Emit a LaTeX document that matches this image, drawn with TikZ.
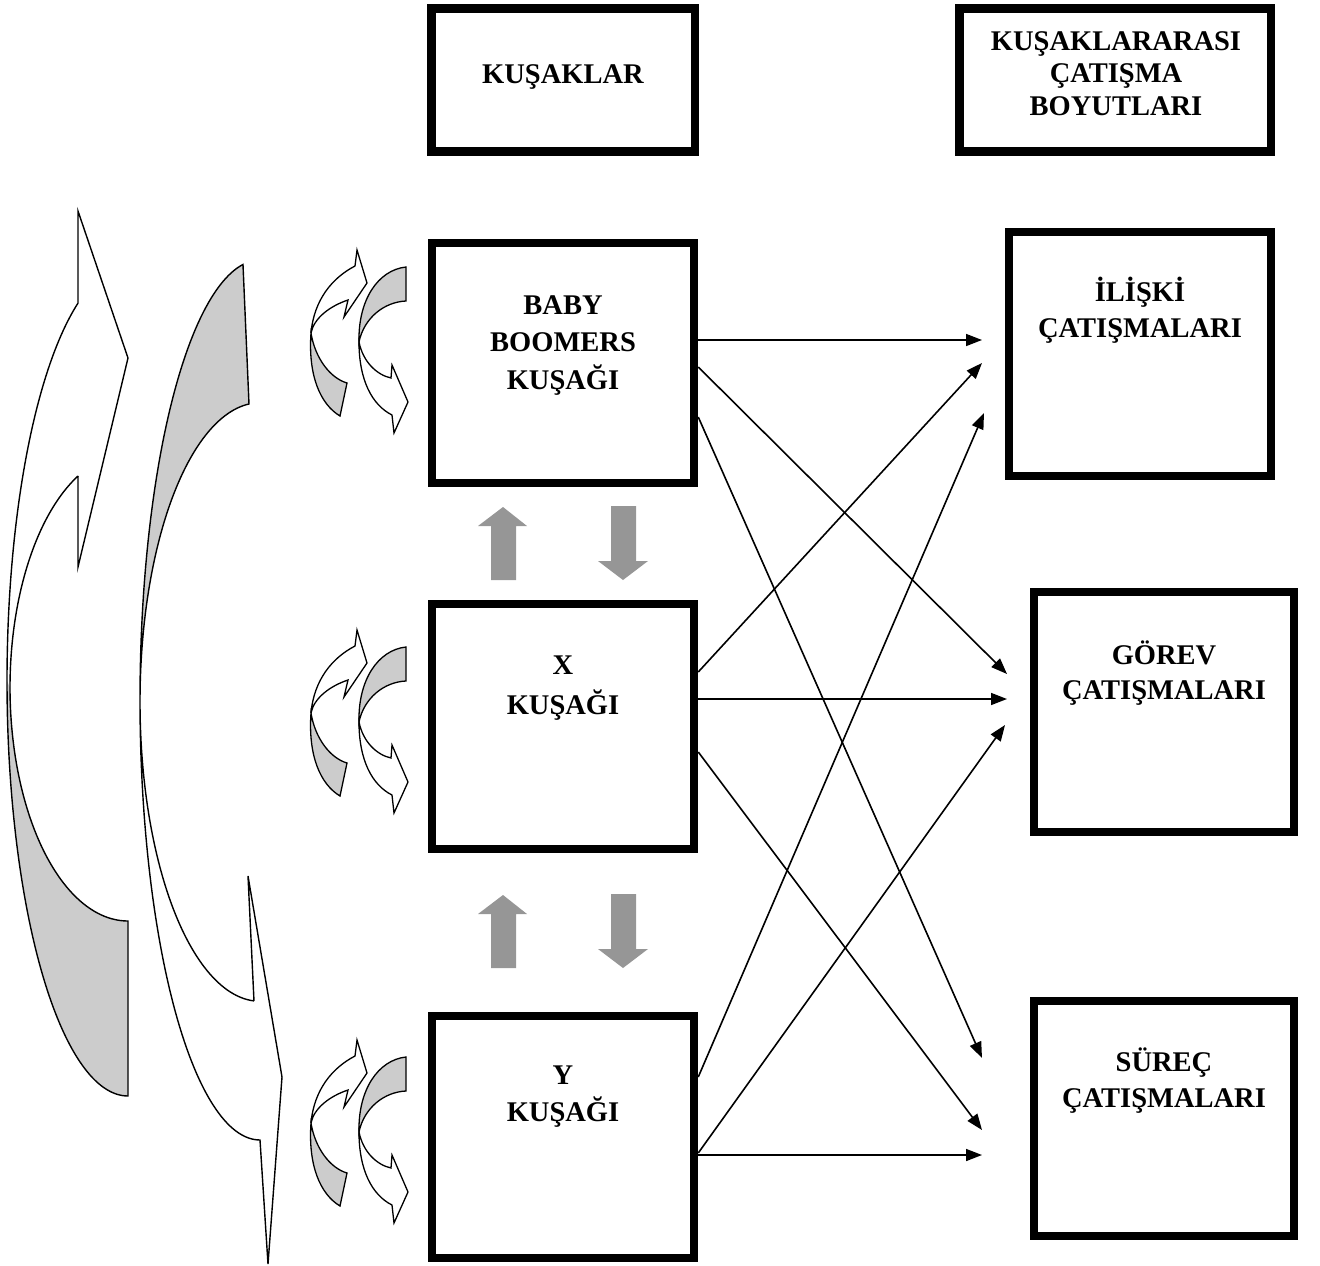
\documentclass[tikz,border=0pt]{standalone}
\usepackage{fontspec}
\setmainfont{Liberation Serif}
\usetikzlibrary{arrows.meta}
\definecolor{ribbongray}{HTML}{CCCCCC}
\definecolor{blockgray}{HTML}{969696}
\begin{document}
\begin{tikzpicture}[x=1pt,y=-1pt,
  box/.style={draw=black, line width=8.5pt, fill=white, inner sep=0pt},
  lbl/.style={font=\bfseries\fontsize{28.5}{34}\selectfont, anchor=base, inner sep=0pt},
  link/.style={line width=1.6pt, -{Triangle[length=16pt,width=12pt]}},
  ribbonline/.style={line width=1.4pt, line join=miter},
  swirlline/.style={line width=1.3pt, line join=miter},
  % small twisted pair of curved arrows beside each generation box
  swirlpair/.pic={
    % left ribbon: white head up-right, grey underside below
    \filldraw[swirlline, fill=white] (311,333) .. controls (314,300) and (332,278) .. (355,266)
      -- (357,250) -- (367,283) -- (344,317) -- (348,300)
      .. controls (330,306) and (314,318) .. (311,333) -- cycle;
    \filldraw[swirlline, fill=ribbongray] (311,333) .. controls (308,375) and (320,404) .. (340,416)
      -- (347,383) .. controls (330,378) and (315,358) .. (311,333) -- cycle;
    % right ribbon: grey tail on top, white head down-right
    \filldraw[swirlline, fill=ribbongray] (359,342) .. controls (358,300) and (378,270) .. (406,267)
      -- (406,301) .. controls (384,302) and (364,318) .. (359,342) -- cycle;
    \filldraw[swirlline, fill=white] (359,342) .. controls (359,380) and (372,405) .. (392,415)
      -- (394,433) -- (408,402) -- (392,365) -- (391,378)
      .. controls (377,375) and (363,362) .. (359,342) -- cycle;
  },
  uparrow/.pic={
    \fill[blockgray] (491,580) -- (491,526) -- (478,526) -- (503,507) -- (527,526)
      -- (516,526) -- (516,580) -- cycle;
  },
  downarrow/.pic={
    \fill[blockgray] (611,506) -- (636,506) -- (636,561) -- (648,561) -- (623,580)
      -- (598,561) -- (611,561) -- cycle;
  },
]
\useasboundingbox (0,0) rectangle (1320,1266);

% ---------- large twisted ribbon arrows on the far left ----------
% ribbon 1: white head pointing up-right, grey underside at the bottom
\fill[white] plot[domain=180:245.6,samples=80,variable=\t] ({128+121*cos(\t)},{681+415*sin(\t)})
  -- (78,211) -- (128,358) -- (78,567) -- (78,476)
  -- plot[domain=244.93:180,samples=80,variable=\t] ({128+118*cos(\t)},{687.5+233.5*sin(\t)}) -- cycle;
\fill[ribbongray] plot[domain=180:90,samples=80,variable=\t] ({128+121*cos(\t)},{681+415*sin(\t)})
  -- plot[domain=90:180,samples=80,variable=\t] ({128+118*cos(\t)},{687.5+233.5*sin(\t)}) -- cycle;
\draw[ribbonline] plot[domain=90:245.6,samples=120,variable=\t] ({128+121*cos(\t)},{681+415*sin(\t)})
  -- (78,211) -- (128,358) -- (78,567) -- (78,476)
  -- plot[domain=244.93:90,samples=120,variable=\t] ({128+118*cos(\t)},{687.5+233.5*sin(\t)}) -- cycle;

% ribbon 2: grey tail at the top, white head pointing down-right
\fill[ribbongray] plot[domain=261.85:180,samples=80,variable=\t] ({260+120*cos(\t)},{700+440*sin(\t)})
  -- plot[domain=180:264.74,samples=80,variable=\t] ({260+120*cos(\t)},{702+299.3*sin(\t)}) -- cycle;
\fill[white] plot[domain=180:90,samples=80,variable=\t] ({260+120*cos(\t)},{700+440*sin(\t)})
  -- (268,1264) -- (282,1077) -- (248,876) -- (254,1001)
  -- plot[domain=92.87:180,samples=80,variable=\t] ({260+120*cos(\t)},{702+299.3*sin(\t)}) -- cycle;
\draw[ribbonline] plot[domain=261.85:90,samples=120,variable=\t] ({260+120*cos(\t)},{700+440*sin(\t)})
  -- (268,1264) -- (282,1077) -- (248,876) -- (254,1001)
  -- plot[domain=92.87:264.74,samples=120,variable=\t] ({260+120*cos(\t)},{702+299.3*sin(\t)}) -- cycle;

% ---------- small swirl pairs ----------
\pic (swirlBB) at (0,0) {swirlpair};
\pic (swirlX) at (0,380) {swirlpair};
\pic (swirlY) at (0,790) {swirlpair};

% ---------- grey up/down block arrows between generations ----------
\pic (upA) at (0,0) {uparrow};
\pic (downA) at (0,0) {downarrow};
\pic (upB) at (0,388) {uparrow};
\pic (downB) at (0,388) {downarrow};

% ---------- boxes ----------
\node[box, minimum width=263.5pt, minimum height=143.2pt] (hdrL) at (563.25,79.9) {};
\node[box, minimum width=311.5pt, minimum height=143.2pt] (hdrR) at (1115.25,79.9) {};
\node[box, minimum width=262pt, minimum height=240pt] (bb) at (563,363) {};
\node[box, minimum width=262pt, minimum height=245pt] (xg) at (563,726.5) {};
\node[box, minimum width=262pt, minimum height=242pt] (yg) at (563,1137) {};
\node[box, minimum width=262pt, minimum height=244pt] (rel) at (1140,354) {};
\node[box, minimum width=260pt, minimum height=240pt] (task) at (1164,712) {};
\node[box, minimum width=260pt, minimum height=235pt] (proc) at (1164,1118.5) {};

% ---------- labels ----------
\node[lbl] (hdrLt) at (563,83.5) {KUŞAKLAR};
\node[lbl] (hdrRt1) at (1116,50) {KUŞAKLARARASI};
\node[lbl] (hdrRt2) at (1116,82.5) {ÇATIŞMA};
\node[lbl] (hdrRt3) at (1116,115) {BOYUTLARI};
\node[lbl] (bbt1) at (563,314) {BABY};
\node[lbl] (bbt2) at (563,351) {BOOMERS};
\node[lbl] (bbt3) at (563,389) {KUŞAĞI};
\node[lbl] (xgt1) at (563,674) {X};
\node[lbl] (xgt2) at (563,714) {KUŞAĞI};
\node[lbl] (ygt1) at (563,1084) {Y};
\node[lbl] (ygt2) at (563,1121) {KUŞAĞI};
\node[lbl] (relt1) at (1140,301) {İLİŞKİ};
\node[lbl] (relt2) at (1140,337) {ÇATIŞMALARI};
\node[lbl] (taskt1) at (1164,664) {GÖREV};
\node[lbl] (taskt2) at (1164,699) {ÇATIŞMALARI};
\node[lbl] (proct1) at (1164,1071) {SÜREÇ};
\node[lbl] (proct2) at (1164,1107) {ÇATIŞMALARI};

% ---------- connector end points ----------
\coordinate (bbo1) at (bb.east |- 0,340);
\coordinate (bbo2) at (bb.east |- 0,367);
\coordinate (bbo3) at (bb.east |- 0,417);
\coordinate (xgo1) at (xg.east |- 0,672);
\coordinate (xgo2) at (xg.east |- 0,699);
\coordinate (xgo3) at (xg.east |- 0,752);
\coordinate (ygo1) at (yg.east |- 0,1077);
\coordinate (ygo2) at (yg.east |- 0,1153);
\coordinate (ygo3) at (yg.east |- 0,1155);
\coordinate (relin1) at (982,340);
\coordinate (relin2) at (982,363);
\coordinate (relin3) at (984,413);
\coordinate (taskin1) at (1007,674);
\coordinate (taskin2) at (1007,699);
\coordinate (taskin3) at (1005,725);
\coordinate (procin1) at (982,1058);
\coordinate (procin2) at (982,1130);
\coordinate (procin3) at (982,1155);

% ---------- connectors ----------
\draw[link] (bbo1) -- (relin1);
\draw[link] (bbo2) -- (taskin1);
\draw[link] (bbo3) -- (procin1);
\draw[link] (xgo1) -- (relin2);
\draw[link] (xgo2) -- (taskin2);
\draw[link] (xgo3) -- (procin2);
\draw[link] (ygo1) -- (relin3);
\draw[link] (ygo2) -- (taskin3);
\draw[link] (ygo3) -- (procin3);
\end{tikzpicture}
\end{document}
